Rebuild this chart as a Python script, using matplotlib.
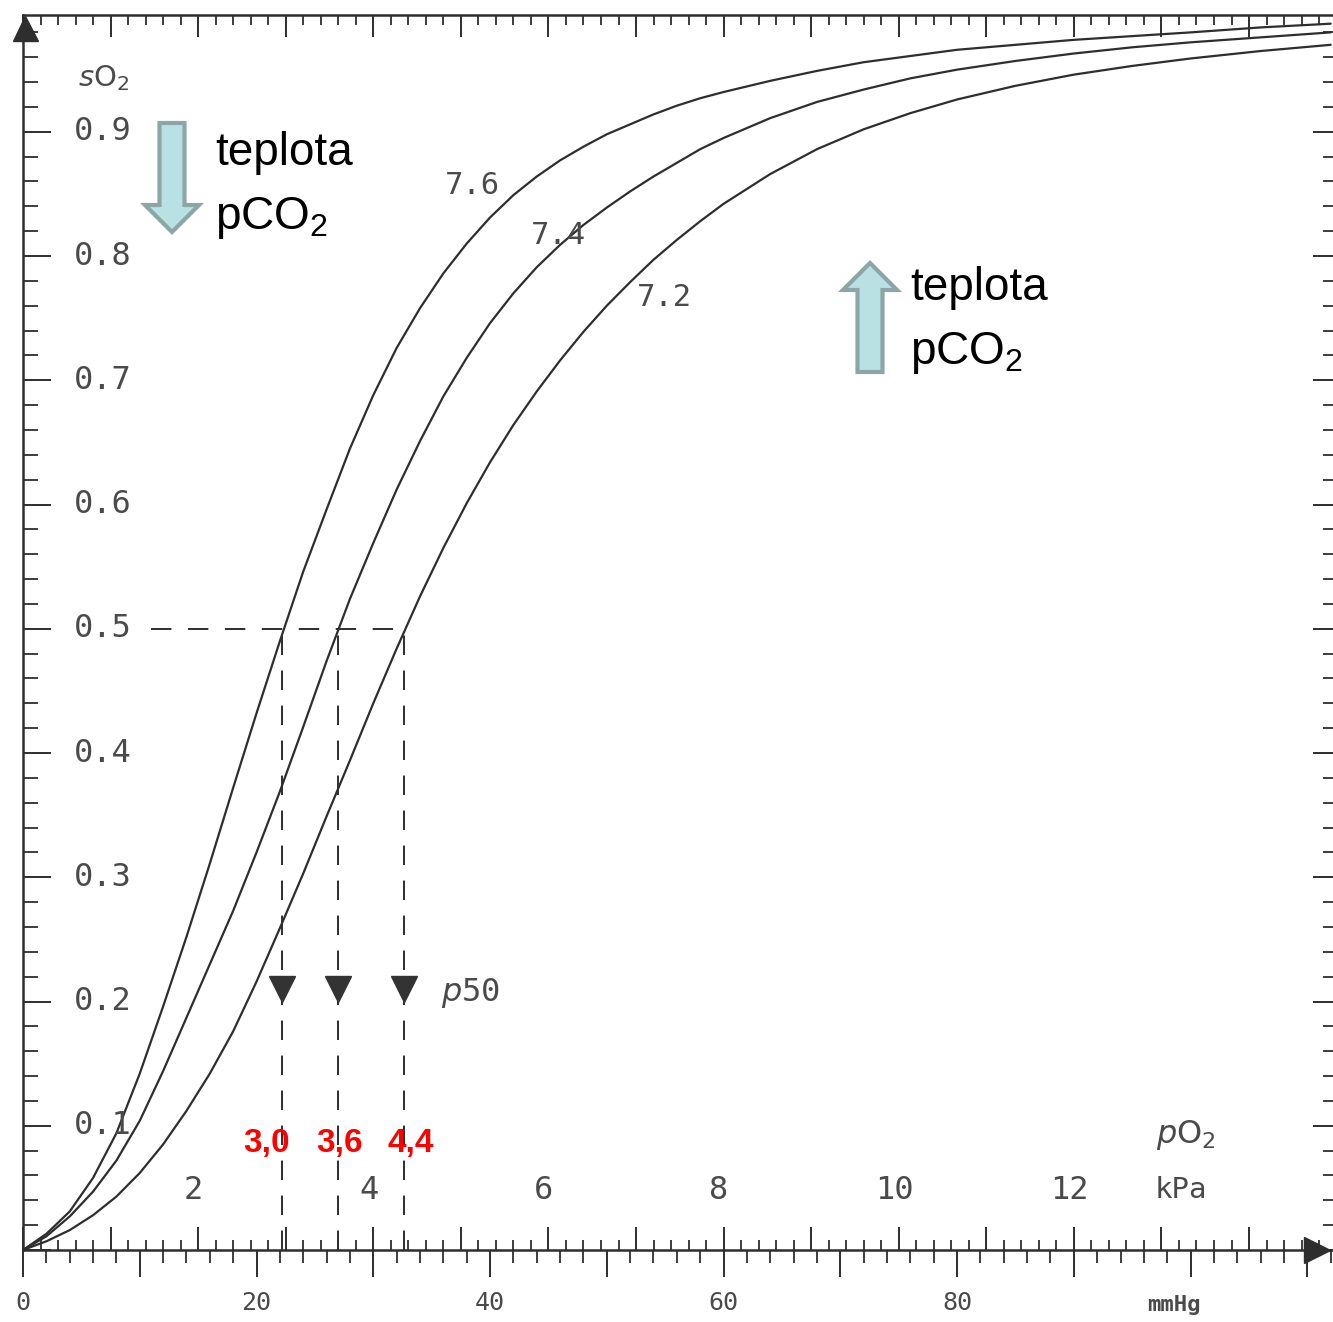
import matplotlib.pyplot as plt
from matplotlib import transforms
from matplotlib.patches import FancyArrow
from matplotlib.ticker import MultipleLocator, NullFormatter

plt.rcParams.update({
    "font.family": ["DejaVu Sans Mono"],
    "mathtext.fontset": "custom",
    "mathtext.rm": "Liberation Sans",
    "mathtext.it": "Liberation Sans:italic",
})

# * data (pO2 in mmHg, saturation as a fraction)
po2_mmhg = [0, 2, 4, 6, 8, 10, 12, 14, 16, 18, 20, 22, 24, 26, 28, 30, 32, 34,
            36, 38, 40, 42, 44, 46, 48, 50, 52, 54, 56, 58, 60, 64, 68, 72, 76,
            80, 85, 90, 95, 100, 106, 112]
so2_ph76 = [0, 0.013, 0.031, 0.058, 0.094, 0.142, 0.196, 0.252, 0.311, 0.372,
            0.432, 0.490, 0.546, 0.596, 0.645, 0.688, 0.726, 0.758, 0.786, 0.810,
            0.831, 0.849, 0.864, 0.877, 0.888, 0.898, 0.906, 0.914, 0.921, 0.927,
            0.932, 0.941, 0.949, 0.956, 0.961, 0.966, 0.970, 0.974, 0.977, 0.980,
            0.984, 0.987]
so2_ph74 = [0, 0.011, 0.027, 0.047, 0.072, 0.104, 0.144, 0.187, 0.230, 0.273,
            0.320, 0.369, 0.421, 0.474, 0.524, 0.569, 0.612, 0.651, 0.687, 0.718,
            0.746, 0.770, 0.791, 0.809, 0.825, 0.839, 0.852, 0.864, 0.875, 0.886,
            0.895, 0.911, 0.924, 0.934, 0.943, 0.950, 0.957, 0.963, 0.968, 0.972,
            0.976, 0.980]
so2_ph72 = [0, 0.007, 0.016, 0.028, 0.043, 0.062, 0.085, 0.112, 0.142, 0.176,
            0.216, 0.259, 0.303, 0.349, 0.394, 0.440, 0.484, 0.526, 0.565, 0.601,
            0.634, 0.664, 0.691, 0.716, 0.739, 0.760, 0.779, 0.797, 0.813, 0.828,
            0.842, 0.866, 0.886, 0.902, 0.915, 0.926, 0.937, 0.946, 0.953, 0.959,
            0.965, 0.970]
ph_labels = ["7.6", "7.4", "7.2"]
p50_mmhg = [22.2, 27.0, 32.6]
p50_texts = ["3,0", "3,6", "4,4"]
so2_ticks = [0.1, 0.2, 0.3, 0.4, 0.5, 0.6, 0.7, 0.8, 0.9]
kpa_ticks = [2, 4, 6, 8, 10, 12]
mmhg_ticks = [0, 20, 40, 60, 80]

INK = "#2e2e2e"
GRAY = "#4a4a4a"
ARROW_FILL = "#b9e1e3"
ARROW_EDGE = "#8ca6a6"
MM_PER_KPA = 7.5006


def mm_to_kpa(v):
    return v / MM_PER_KPA


def kpa_to_mm(v):
    return v * MM_PER_KPA


fig = plt.figure(figsize=(13.33, 13.22), dpi=100)
ax = fig.add_axes([23 / 1333, 72 / 1322, 1310 / 1333, 1235 / 1322])
ax.set_xlim(0, 112.2)
ax.set_ylim(0, 0.994)

# * transformacion en pixeles de la imagen (y hacia abajo)
px = transforms.Affine2D().scale(1 / 1333, -1 / 1322).translate(0, 1) + fig.transFigure

for s in ["left", "top", "bottom"]:
    ax.spines[s].set_color(INK)
    ax.spines[s].set_linewidth(1.8)
ax.spines["right"].set_visible(False)

# * eje x principal en mmHg (ticks hacia fuera)
ax.xaxis.set_minor_locator(MultipleLocator(2))
ax.set_xticks(list(range(0, 120, 10)))
ax.set_xticklabels([str(t) if t in mmhg_ticks else "" for t in range(0, 120, 10)])
ax.tick_params(axis="x", which="major", direction="out", length=19.5, width=1.4,
               color=INK, labelsize=18, labelcolor=GRAY, pad=10, top=False)
ax.tick_params(axis="x", which="minor", direction="out", length=9.5, width=1.3,
               color=INK, top=False)

# * eje y (ticks hacia dentro)
ax.yaxis.set_major_locator(MultipleLocator(0.1))
ax.yaxis.set_minor_locator(MultipleLocator(0.02))
ax.yaxis.set_major_formatter(NullFormatter())
ax.tick_params(axis="y", which="major", direction="in", length=20, width=1.4, color=INK)
ax.tick_params(axis="y", which="minor", direction="in", length=10.5, width=1.3, color=INK)

sec_r = ax.secondary_yaxis("right", functions=(lambda v: v, lambda v: v))
sec_r.yaxis.set_major_locator(MultipleLocator(0.1))
sec_r.yaxis.set_minor_locator(MultipleLocator(0.02))
sec_r.yaxis.set_major_formatter(NullFormatter())
sec_r.spines["right"].set_visible(False)
sec_r.tick_params(which="major", direction="in", length=14.5, width=1.4, color=INK)
sec_r.tick_params(which="minor", direction="in", length=7, width=1.3, color=INK)

# * escalas en kPa (abajo y arriba, ticks hacia dentro)
for loc, big, small in [("bottom", 16.5, 7.5), ("top", 16, 7.5)]:
    sec = ax.secondary_xaxis(loc, functions=(mm_to_kpa, kpa_to_mm))
    sec.xaxis.set_major_locator(MultipleLocator(1))
    sec.xaxis.set_minor_locator(MultipleLocator(0.2))
    sec.xaxis.set_major_formatter(NullFormatter())
    sec.spines[loc].set_visible(False)
    sec.tick_params(which="major", direction="in", length=big, width=1.4, color=INK)
    sec.tick_params(which="minor", direction="in", length=small, width=1.3, color=INK)

# * flechas de los ejes
ax.plot([25], [28], marker="^", ms=18, color=INK, transform=px, clip_on=False)
ax.plot([1317], [1250], marker=">", ms=19, color=INK, transform=px, clip_on=False)

# * curvas de disociacion
for vals in [so2_ph76, so2_ph74, so2_ph72]:
    ax.plot(po2_mmhg, vals, color=INK, lw=1.6, solid_capstyle="round",
            solid_joinstyle="round")

# * lineas de p50
dash_start = 11.0
hline, = ax.plot([dash_start, max(p50_mmhg)], [0.5, 0.5], color=INK, lw=1.4)
hline.set_dashes([10.5, 8.5])
for p in p50_mmhg:
    vline, = ax.plot([p, p], [0, 0.5], color=INK, lw=1.4)
    vline.set_dashes([10, 8])
ax.plot(p50_mmhg, [0.21] * len(p50_mmhg), "v", ms=19, color="#333333",
        linestyle="none")

# * textos escaneados
for v in so2_ticks:
    ax.text(4.4, v, f"{v:.1f}", ha="left", va="center", fontsize=23, color=GRAY)
for t in kpa_ticks:
    ax.text(kpa_to_mm(t) - 0.4, 0.048, str(t), ha="center", va="center",
            fontsize=23, color=GRAY)
ax.text(1181, 1190, "kPa", transform=px, ha="center", va="center", fontsize=21,
        color=GRAY)
ax.text(1186, 1135, r"$p\mathrm{O}_{2}$", transform=px, ha="center", va="center",
        fontsize=23, color=GRAY, math_fontfamily="dejavusans")
ax.text(104, 78, r"$s\mathrm{O}_{2}$", transform=px, ha="center", va="center",
        fontsize=21, color=GRAY, math_fontfamily="dejavusans")
ax.text(1174, 1305, "mmHg", transform=px, ha="center", va="center", fontsize=16,
        color=GRAY, fontweight="bold")
ax.text(441, 993, r"$p$50", transform=px, ha="left", va="center", fontsize=23,
        color=GRAY, math_fontfamily="dejavusans")

label_pos = [(472, 186), (558, 235), (664, 297)]
for lab, (lx, ly) in zip(ph_labels, label_pos):
    ax.text(lx, ly, lab, transform=px, ha="center", va="center", fontsize=22,
            color=GRAY)

# * valores de p50 en rojo
red_pos = [267, 340, 411]
for txt, rx in zip(p50_texts, red_pos):
    ax.text(rx, 1152, txt, transform=px, ha="center", va="baseline", fontsize=24,
            color="#ff0000", fontweight="bold", family=["Liberation Sans"])

# * flechas de teplota / pCO2
down = FancyArrow(172, 123, 0, 109, width=25, head_width=54, head_length=27,
                  length_includes_head=True, transform=px, facecolor=ARROW_FILL,
                  edgecolor=ARROW_EDGE, linewidth=3)
up = FancyArrow(870, 372, 0, -109, width=25, head_width=54, head_length=27,
                length_includes_head=True, transform=px, facecolor=ARROW_FILL,
                edgecolor=ARROW_EDGE, linewidth=3)
fig.patches.extend([down, up])

for tx, ty in [(215, 165), (910, 300)]:
    fig.text(tx, ty, "teplota", transform=px, ha="left", va="baseline", fontsize=33,
             color="black", family=["Liberation Sans"])
    fig.text(tx, ty + 64, "pCO$_{2}$", transform=px, ha="left", va="baseline",
             fontsize=33, color="black", family=["Liberation Sans"])

plt.savefig("out.png", dpi=100)
